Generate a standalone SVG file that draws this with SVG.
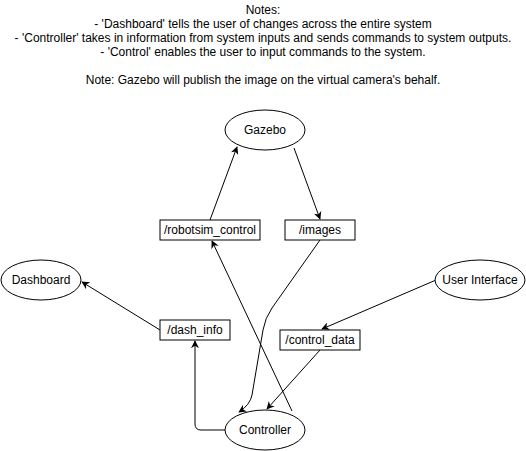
<svg xmlns="http://www.w3.org/2000/svg" width="526" height="451" viewBox="0 0 526 451">
<defs>
<marker id="arr" viewBox="0 0 10 10" refX="9" refY="5" markerWidth="8" markerHeight="8" markerUnits="userSpaceOnUse" orient="auto">
<path d="M0,0 L10,5 L0,10 L3,5 Z" fill="#000"/>
</marker>
<style>
text{font-family:"Liberation Sans",Arial,sans-serif;font-size:12px;fill:#000;text-anchor:middle}
.n{fill:#fff;stroke:#000;stroke-width:1}
.e{fill:none;stroke:#000;stroke-width:1;marker-end:url(#arr)}
</style>
</defs>
<rect width="526" height="451" fill="#fff"/>
<g id="notes">
<text x="263" y="14">Notes:</text>
<text x="263" y="28">- 'Dashboard' tells the user of changes across the entire system</text>
<text x="263" y="42">- 'Controller' takes in information from system inputs and sends commands to system outputs.</text>
<text x="263" y="56">- 'Control' enables the user to input commands to the system.</text>
<text x="263" y="84">Note: Gazebo will publish the image on the virtual camera's behalf.</text>
</g>
<g id="connectors">
<path class="e" d="M210,220 L237,147"/>
<path class="e" d="M294,148 L320,219"/>
<path class="e" d="M160,330 L82,282"/>
<path class="e" d="M436,280 L322,329"/>
<path class="e" d="M320,350 L267,409"/>
<path class="e" d="M320,240 L272,308 Q265,318 263,330 L252,395 Q250,405 239,412"/>
<path class="e" d="M292,411 L212,241"/>
<path class="e" d="M225,430 L201,430 Q195,430 195,424 L195,341"/>
</g>
<g id="gazebo"><ellipse class="n" cx="265" cy="130" rx="40" ry="20"/><text x="265" y="134">Gazebo</text></g>
<g id="robotsim_control"><rect class="n" x="160" y="220" width="100" height="20"/><text x="210" y="234">/robotsim_control</text></g>
<g id="images"><rect class="n" x="285" y="220" width="70" height="20"/><text x="320" y="234">/images</text></g>
<g id="dashboard"><ellipse class="n" cx="41" cy="280" rx="40" ry="20"/><text x="41" y="284">Dashboard</text></g>
<g id="dash_info"><rect class="n" x="160" y="320" width="70" height="20"/><text x="195" y="334">/dash_info</text></g>
<g id="user_interface"><ellipse class="n" cx="480" cy="280" rx="45" ry="20"/><text x="480" y="284">User Interface</text></g>
<g id="control_data"><rect class="n" x="280" y="330" width="80" height="20"/><text x="320" y="344">/control_data</text></g>
<g id="controller"><ellipse class="n" cx="265" cy="430" rx="40" ry="20"/><text x="265" y="434">Controller</text></g>
</svg>
